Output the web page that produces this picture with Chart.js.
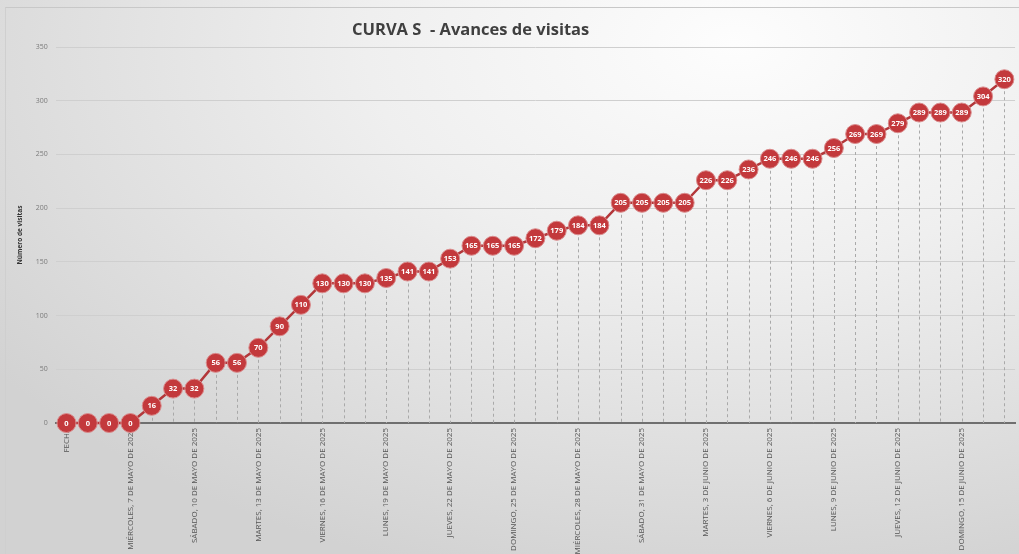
<!DOCTYPE html>
<html>
<head>
<meta charset="utf-8">
<script src="https://cdn.jsdelivr.net/npm/chart.js@4.4.1/dist/chart.umd.min.js"></script>
<style>
  html, body { margin: 0; padding: 0; }
  body {
    width: 1019px; height: 554px; overflow: hidden; position: relative;
    background: radial-gradient(ellipse 90% 100% at 72% 8%, #fdfdfd 0%, #efefef 40%, #dedede 75%, #d2d2d2 100%);
  }
  .frame { position: absolute; left: 5px; top: 7px; right: 0; bottom: 0; border-top: 1px solid #c8c8c8; border-left: 1px solid #cfcfcf; }
  .title {
    position: absolute; top: 17px; left: 352px;
    font-family: "Open Sans", sans-serif; font-weight: bold; font-size: 16.5px;
    color: #3f3f3f; white-space: pre;
  }
  canvas { position: absolute; left: 0; top: 0; }
</style>
</head>
<body>
<div class="frame"></div>
<canvas id="myChart" width="1019" height="554"></canvas>
<div class="title">CURVA S  - Avances de visitas</div>
<script>
const categories = [
  'FECHA',
  'LUNES, 5 DE MAYO DE 2025', 'MARTES, 6 DE MAYO DE 2025', 'MIÉRCOLES, 7 DE MAYO DE 2025',
  'JUEVES, 8 DE MAYO DE 2025', 'VIERNES, 9 DE MAYO DE 2025', 'SÁBADO, 10 DE MAYO DE 2025',
  'DOMINGO, 11 DE MAYO DE 2025', 'LUNES, 12 DE MAYO DE 2025', 'MARTES, 13 DE MAYO DE 2025',
  'MIÉRCOLES, 14 DE MAYO DE 2025', 'JUEVES, 15 DE MAYO DE 2025', 'VIERNES, 16 DE MAYO DE 2025',
  'SÁBADO, 17 DE MAYO DE 2025', 'DOMINGO, 18 DE MAYO DE 2025', 'LUNES, 19 DE MAYO DE 2025',
  'MARTES, 20 DE MAYO DE 2025', 'MIÉRCOLES, 21 DE MAYO DE 2025', 'JUEVES, 22 DE MAYO DE 2025',
  'VIERNES, 23 DE MAYO DE 2025', 'SÁBADO, 24 DE MAYO DE 2025', 'DOMINGO, 25 DE MAYO DE 2025',
  'LUNES, 26 DE MAYO DE 2025', 'MARTES, 27 DE MAYO DE 2025', 'MIÉRCOLES, 28 DE MAYO DE 2025',
  'JUEVES, 29 DE MAYO DE 2025', 'VIERNES, 30 DE MAYO DE 2025', 'SÁBADO, 31 DE MAYO DE 2025',
  'DOMINGO, 1 DE JUNIO DE 2025', 'LUNES, 2 DE JUNIO DE 2025', 'MARTES, 3 DE JUNIO DE 2025',
  'MIÉRCOLES, 4 DE JUNIO DE 2025', 'JUEVES, 5 DE JUNIO DE 2025', 'VIERNES, 6 DE JUNIO DE 2025',
  'SÁBADO, 7 DE JUNIO DE 2025', 'DOMINGO, 8 DE JUNIO DE 2025', 'LUNES, 9 DE JUNIO DE 2025',
  'MARTES, 10 DE JUNIO DE 2025', 'MIÉRCOLES, 11 DE JUNIO DE 2025', 'JUEVES, 12 DE JUNIO DE 2025',
  'VIERNES, 13 DE JUNIO DE 2025', 'SÁBADO, 14 DE JUNIO DE 2025', 'DOMINGO, 15 DE JUNIO DE 2025',
  'LUNES, 16 DE JUNIO DE 2025', 'MARTES, 17 DE JUNIO DE 2025'
];

const visitas = [
  0, 0, 0, 0, 16, 32, 32, 56, 56, 70,
  90, 110, 130, 130, 130, 135, 141, 141, 153, 165,
  165, 165, 172, 179, 184, 184, 205, 205, 205, 205,
  226, 226, 236, 246, 246, 246, 256, 269, 269, 279,
  289, 289, 289, 304, 320
];

const yTicks = [0, 50, 100, 150, 200, 250, 300, 350];

// dashed drop lines from each point to the axis + value labels inside points
const pointExtras = {
  id: 'pointExtras',
  beforeDatasetsDraw(chart) {
    const ctx = chart.ctx;
    const meta = chart.getDatasetMeta(0);
    const bottom = chart.scales.y.getPixelForValue(0);
    ctx.save();
    ctx.strokeStyle = '#a9a9a9';
    ctx.lineWidth = 1;
    ctx.setLineDash([3, 3]);
    meta.data.forEach((pt) => {
      ctx.beginPath();
      ctx.moveTo(Math.round(pt.x) + 0.5, pt.y);
      ctx.lineTo(Math.round(pt.x) + 0.5, bottom);
      ctx.stroke();
    });
    ctx.restore();
  },
  afterDatasetsDraw(chart) {
    const ctx = chart.ctx;
    const meta = chart.getDatasetMeta(0);
    ctx.save();
    ctx.fillStyle = '#ffffff';
    ctx.font = 'bold 7.5px "Open Sans", sans-serif';
    ctx.textAlign = 'center';
    ctx.textBaseline = 'middle';
    meta.data.forEach((pt, i) => {
      ctx.fillText(String(visitas[i]), pt.x, pt.y + 0.5);
    });
    ctx.restore();
  }
};

const ctx = document.getElementById('myChart').getContext('2d');
new Chart(ctx, {
  type: 'line',
  data: {
    labels: categories,
    datasets: [{
      label: 'Número de visitas',
      data: visitas,
      borderColor: '#b3373a',
      borderWidth: 2.5,
      pointRadius: 9.5,
      pointBackgroundColor: '#c3393c',
      pointBorderColor: '#d98b8c',
      pointBorderWidth: 1,
      tension: 0,
      fill: false,
      clip: false
    }]
  },
  options: {
    responsive: false,
    devicePixelRatio: 1,
    animation: false,
    layout: { autoPadding: false, padding: { top: 47, left: 16, right: 1, bottom: 0 } },
    plugins: {
      legend: { display: false },
      tooltip: { enabled: false },
      title: { display: false }
    },
    scales: {
      x: {
        offset: true,
        grid: { display: false, drawTicks: false },
        border: { display: true, color: '#6f6f6f', width: 2 },
        ticks: {
          autoSkip: false,
          minRotation: 90,
          maxRotation: 90,
          padding: 5,
          color: '#555555',
          font: { family: '"Liberation Sans Narrow", "Open Sans", sans-serif', size: 8 },
          callback: (v, i) => (i % 3 === 0 ? categories[i] : '')
        },
        afterFit: (s) => { s.height = 131; }
      },
      y: {
        min: 0,
        max: 350,
        afterBuildTicks: (s) => { s.ticks = yTicks.map((v) => ({ value: v })); },
        grid: { color: '#cfcfcf', lineWidth: 1, drawTicks: false },
        border: { display: false },
        ticks: {
          padding: 8,
          color: '#7a7a7a',
          font: { family: '"Open Sans", sans-serif', size: 7 }
        },
        title: {
          display: true,
          text: 'Número de visitas',
          color: '#333333',
          font: { family: '"Open Sans", sans-serif', size: 6.5, weight: 'bold' },
          padding: { top: 0, bottom: 4 }
        }
      }
    }
  },
  plugins: [pointExtras]
});
</script>
</body>
</html>
